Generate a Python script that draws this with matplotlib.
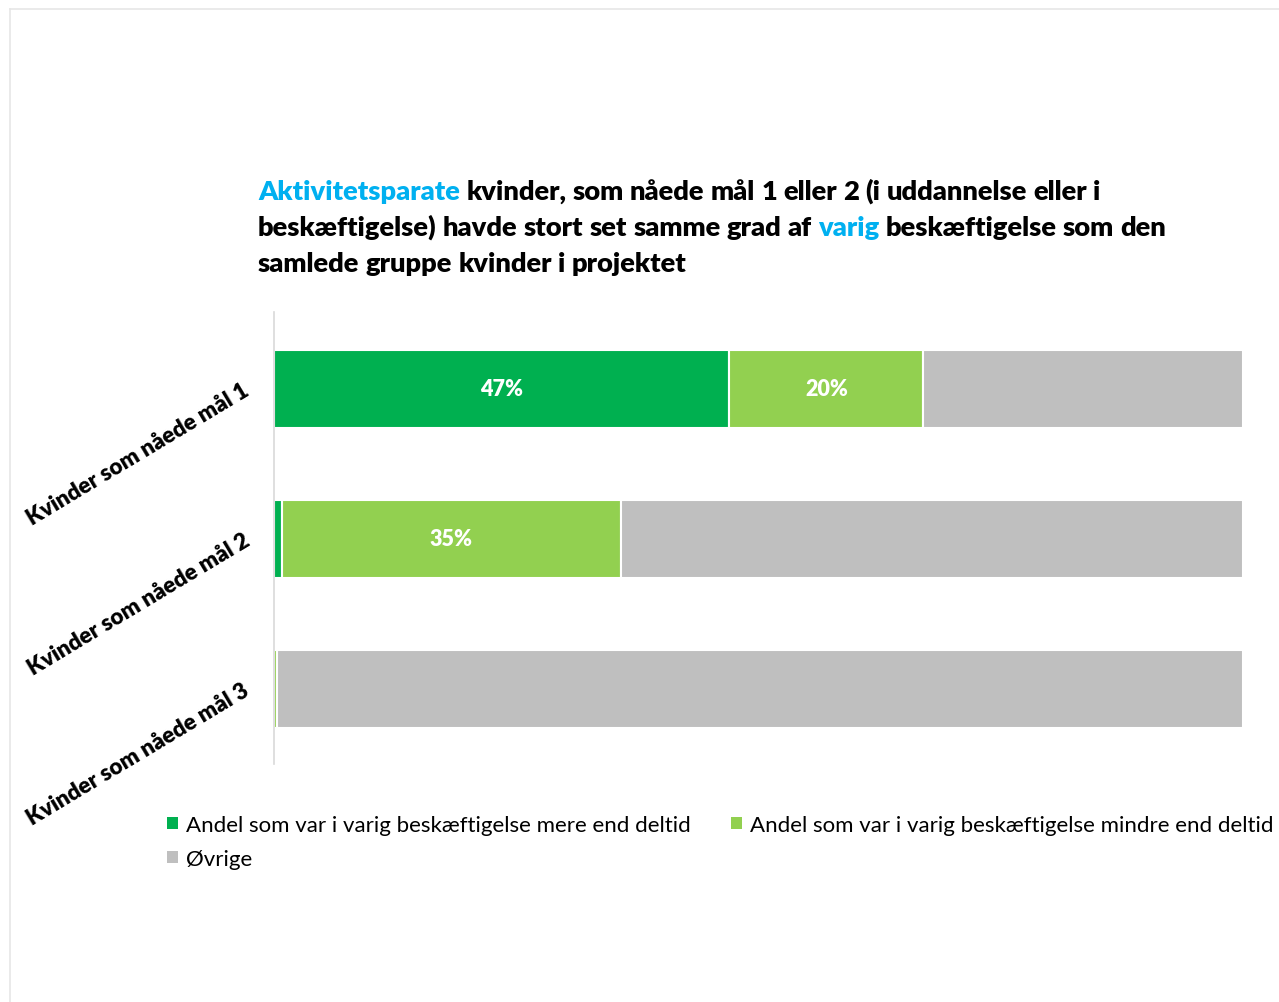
import matplotlib
matplotlib.use("Agg")
import matplotlib.pyplot as plt
from matplotlib.transforms import IdentityTransform
from matplotlib.lines import Line2D
from matplotlib.patches import Patch

# Data
categories = ["Kvinder som nåede mål 1", "Kvinder som nåede mål 2", "Kvinder som nåede mål 3"]
series_names = [
    "Andel som var i varig beskæftigelse mere end deltid",
    "Andel som var i varig beskæftigelse mindre end deltid",
    "Øvrige",
]
mere_end_deltid = [47, 0.8, 0.0]
mindre_end_deltid = [20, 35, 0.3]
ovrige = [33, 64.2, 99.7]
show_labels = [[True, False, False], [True, True, False], [False, False, False]]

colors = ["#00B050", "#92D050", "#BFBFBF"]
blue = "#00B0F0"
FONT = "Lato"

W, H = 1279, 1003
fig = plt.figure(figsize=(W / 100, H / 100), dpi=100)
fig.patch.set_facecolor("white")

# Axes placement in pixels
left, right, top, bottom = 274, 1243, 313, 765
ax = fig.add_axes([left / W, 1 - bottom / H, (right - left) / W, (bottom - top) / H])

series = [mere_end_deltid, mindre_end_deltid, ovrige]
ypos = list(range(len(categories)))
starts = [0.0] * len(categories)
for si, vals in enumerate(series):
    bars = ax.barh(ypos, vals, left=starts, height=0.52, color=colors[si],
                   edgecolor="white", linewidth=1.5, label=series_names[si])
    for i, (b, v) in enumerate(zip(bars, vals)):
        if si < 2 and show_labels[si][i]:
            ax.text(starts[i] + v / 2, ypos[i], f"{v:.0f}%", ha="center", va="center",
                    color="white", fontsize=15.5, fontweight="heavy", family=FONT)
    starts = [s + v for s, v in zip(starts, vals)]

ax.set_xlim(0, 100)
ax.set_ylim(2.503, -0.51)
ax.set_yticks(ypos)
ax.set_yticklabels(categories, rotation=31, ha="right", va="center",
                   rotation_mode="anchor", fontsize=16.2, fontweight="heavy", family=FONT)
ax.tick_params(axis="y", length=0, pad=19)
ax.set_xticks([])
for s in ["top", "right", "bottom"]:
    ax.spines[s].set_visible(False)
ax.spines["left"].set_color("#D9D9D9")
ax.spines["left"].set_linewidth(1.2)

# Legend: reorder so that it reads row by row
handles = [Patch(facecolor=c, edgecolor="none") for c in colors]
order = [0, 2, 1]
fig.legend([handles[i] for i in order], [series_names[i] for i in order],
           ncol=2, loc="upper left", bbox_to_anchor=(167 / W, 1 - 816 / H),
           frameon=False, handlelength=0.5, handleheight=0.5, handletextpad=0.35,
           columnspacing=1.8, labelspacing=0.62, borderaxespad=0, borderpad=0,
           prop={"family": FONT, "size": 16})

# Title with coloured words, drawn word by word
title_lines = [
    [("Aktivitetsparate", blue), ("kvinder, som nåede mål 1 eller 2 (i uddannelse eller i", "black")],
    [("beskæftigelse) havde stort set samme grad af", "black"), ("varig", blue),
     ("beskæftigelse som den", "black")],
    [("samlede gruppe kvinder i projektet", "black")],
]
renderer = fig.canvas.get_renderer()
tprops = dict(fontsize=19.6, fontweight="heavy", family=FONT)


def text_width(s):
    t = fig.text(0, 0, s, transform=IdentityTransform(), **tprops)
    w = t.get_window_extent(renderer).width
    t.remove()
    return w


space_w = text_width("a a") - text_width("aa")
x0 = 258
baselines = [200, 236, 272]
for line, yb in zip(title_lines, baselines):
    x = x0
    for seg, col in line:
        for word in seg.split(" "):
            t = fig.text(x, H - yb, word, color=col, ha="left", va="baseline",
                         transform=IdentityTransform(), **tprops)
            x += t.get_window_extent(renderer).width + space_w

# Light frame around the chart area
fig.add_artist(Line2D([10, W], [H - 10, H - 10], transform=IdentityTransform(),
                      color="#E6E6E6", linewidth=1.2))
fig.add_artist(Line2D([10, 10], [0, H - 10], transform=IdentityTransform(),
                      color="#E6E6E6", linewidth=1.2))

fig.savefig("out.png", dpi=100)
